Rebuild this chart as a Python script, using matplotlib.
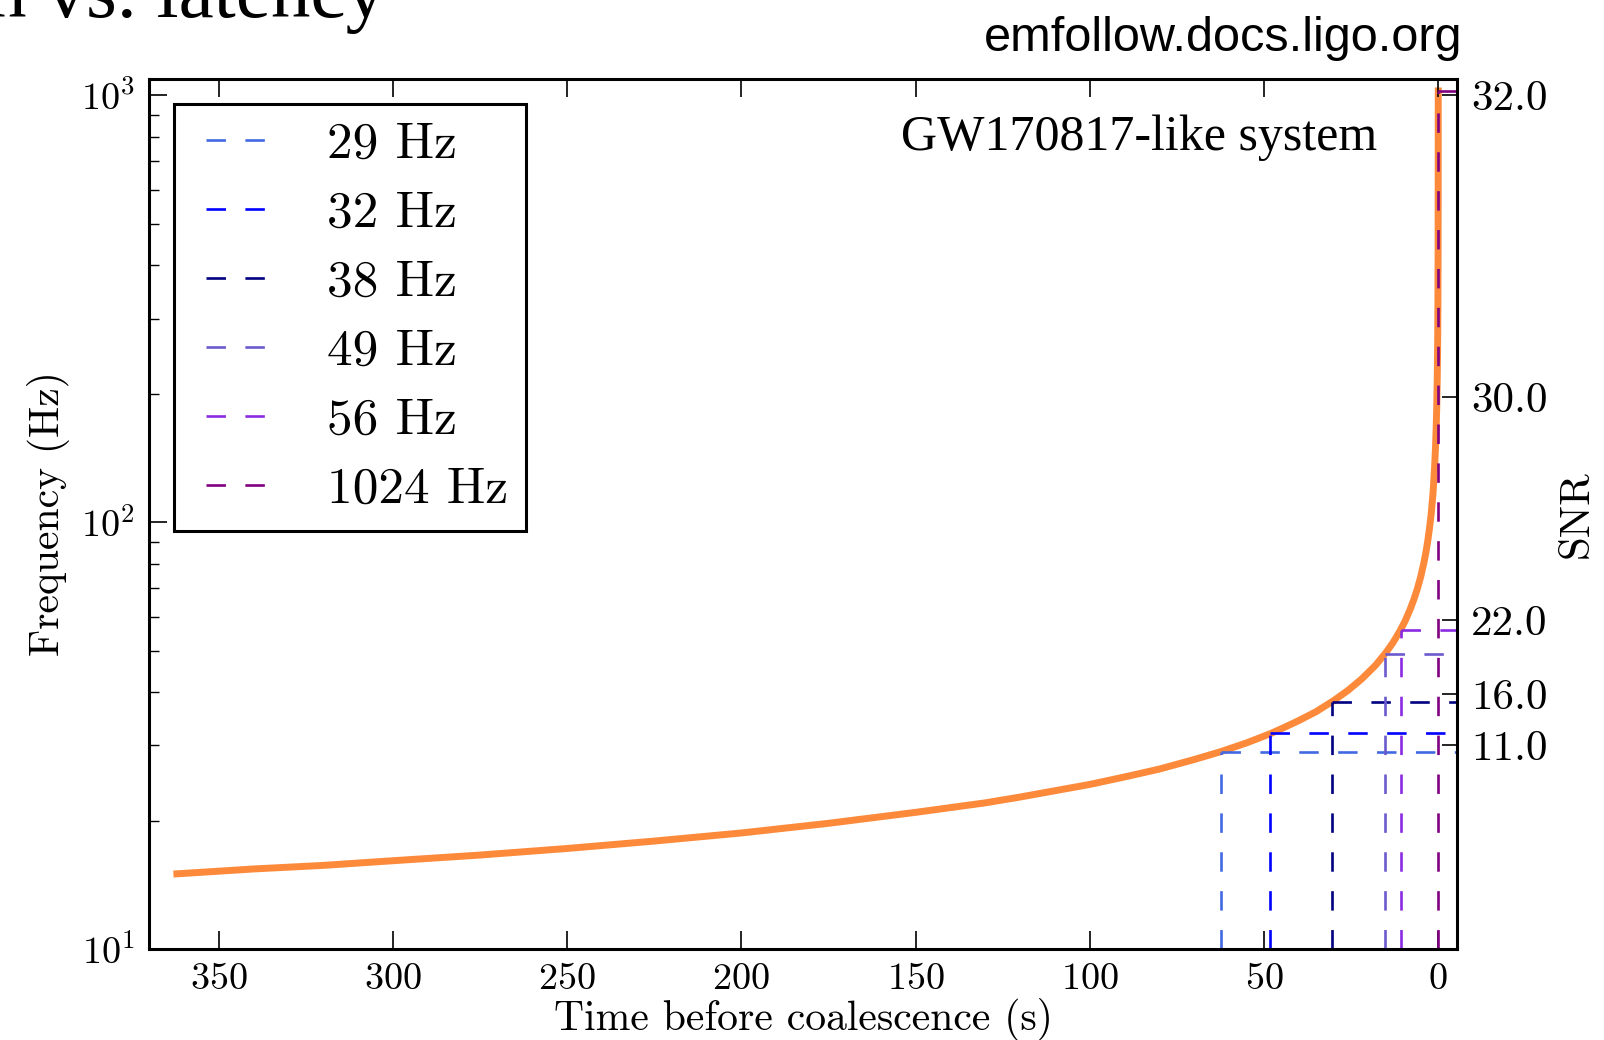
import matplotlib
matplotlib.use("Agg")
import matplotlib.pyplot as plt
from matplotlib.ticker import NullLocator, FixedLocator

plt.rcParams['font.family'] = 'cmr10'
plt.rcParams['mathtext.fontset'] = 'cm'
plt.rcParams['axes.formatter.use_mathtext'] = True
plt.rcParams['axes.unicode_minus'] = False
plt.rcParams['lines.scale_dashes'] = False

# courbe temps / frequence
curve_t = [362, 340, 320, 300, 275, 250, 225, 200, 175, 150, 130, 120, 100, 90, 80, 70, 62.4,
           55, 48, 44, 40, 35, 30, 26, 22, 18, 15, 13, 11, 9.5, 8, 7, 6, 5, 4, 3.5, 3, 2.5,
           2, 1.5, 1.25, 1, 0.8, 0.6, 0.45, 0.3, 0.2, 0.15, 0.1, 0.05, 0.035, 0.02, 0.01,
           0.005, 0.0]
curve_f = [15.0, 15.4, 15.7, 16.1, 16.6, 17.2, 17.9, 18.7, 19.7, 20.9, 22.0, 22.7, 24.3, 25.3, 26.4, 27.8, 29.0,
           30.4, 32.0, 33.1, 34.3, 36.0, 38.2, 40.3, 42.9, 46.2, 49.5, 52.2, 55.6, 58.7, 62.7, 65.9, 69.8, 74.7, 81.2, 85.4, 90.5, 96.9,
           105, 117, 126, 137, 149, 166, 184, 215, 250, 278, 324, 420, 480, 592, 769,
           997, 1024]

# frequences de coupure et temps correspondants
cut_freqs = [29, 32, 38, 49, 56, 1024]
cut_times = [62.4, 48.2, 30.4, 15.2, 10.8, 0.0]
cut_labels = ['29 Hz', '32 Hz', '38 Hz', '49 Hz', '56 Hz', '1024 Hz']
cut_colors = ['royalblue', 'blue', 'navy', 'slateblue', 'blueviolet', 'purple']

# axe de droite (SNR)
snr_tick_freqs = [30, 39.5, 59, 196, 1000]
snr_labels = ['11.0', '16.0', '22.0', '30.0', '32.0']

x_ticks = [350, 300, 250, 200, 150, 100, 50, 0]
x_lim = (370, -5.4)
y_lim = (10, 1092)

fig = plt.figure(figsize=(16.04, 10.40), dpi=100)
ax = fig.add_axes([0.0929, 0.0875, 0.8155, 0.8365])

ax.plot(curve_t, curve_f, color='#fd8a3b', lw=5, zorder=1, solid_joinstyle='round')

for f, t, lab, c in zip(cut_freqs, cut_times, cut_labels, cut_colors):
    ax.plot([t, t], [y_lim[0], f], color=c, lw=1.9, dashes=(14, 14), zorder=2, label=lab)
    ax.plot([t, x_lim[1]], [f, f], color=c, lw=1.9, dashes=(14, 14), zorder=2)

ax.set_yscale('log')
ax.set_xlim(*x_lim)
ax.set_ylim(*y_lim)
ax.set_xticks(x_ticks)
ax.tick_params(which='both', direction='in', top=True, right=False, labelsize=27.5, pad=10)
ax.tick_params(which='major', length=13, width=1.2)
ax.tick_params(which='minor', length=7, width=1.0)
for s in ax.spines.values():
    s.set_linewidth(2.2)

ax.set_xlabel('Time before coalescence (s)', fontsize=30, labelpad=1)
ax.set_ylabel('Frequency (Hz)', fontsize=30, labelpad=8)

leg = ax.legend(loc='upper left', bbox_to_anchor=(0.019, 0.971), borderaxespad=0,
                fontsize=37, handlelength=1.44, handletextpad=1.2, labelspacing=0.45,
                borderpad=0.34, fancybox=False, edgecolor='black', framealpha=1)
leg.get_frame().set_linewidth(2.2)
# le trait de legende commence par un blanc
for line in leg.get_lines():
    line.set_linestyle((17.2, (14, 14)))

ax.text(0.939, 0.932, 'GW170817-like system', transform=ax.transAxes, ha='right', va='center',
        fontsize=36, family='Liberation Serif')

ax2 = ax.twinx()
ax2.set_yscale('log')
ax2.set_ylim(*y_lim)
ax2.yaxis.set_major_locator(FixedLocator(snr_tick_freqs))
ax2.yaxis.set_minor_locator(NullLocator())
ax2.set_yticklabels(snr_labels)
ax2.tick_params(direction='in', length=11, width=1.2, labelsize=31, pad=10)
ax2.set_ylabel('SNR', fontsize=31, labelpad=8)

fig.text(0.912, 0.963, 'emfollow.docs.ligo.org', ha='right', va='center',
         fontsize=35, family='Liberation Sans')
fig.text(-0.008, 0.984, 'n vs. latency', ha='left', va='baseline',
         fontsize=57, family='Liberation Serif')

fig.savefig('out.png', dpi=100)
